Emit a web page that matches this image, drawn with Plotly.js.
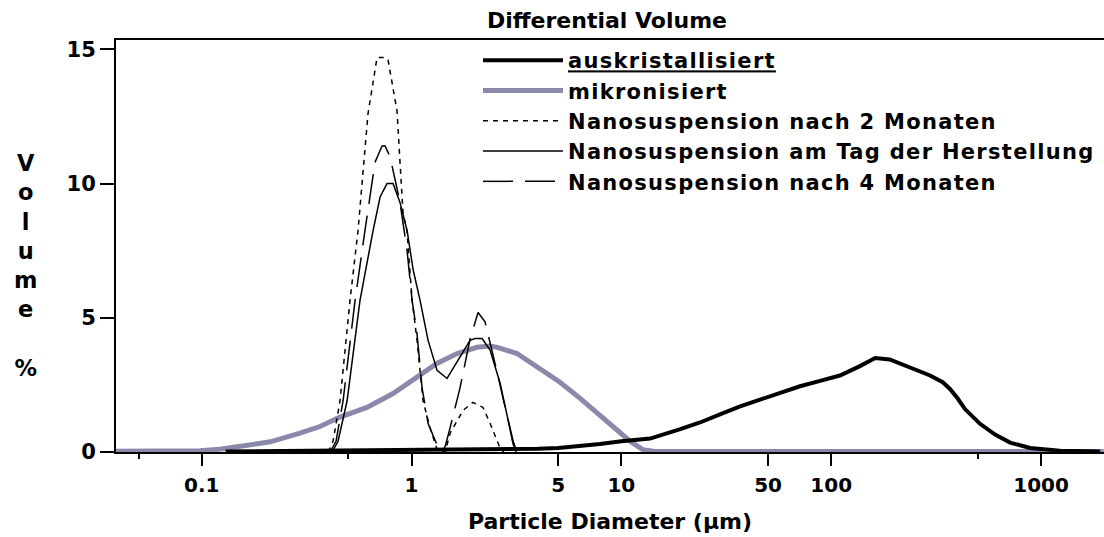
<!DOCTYPE html>
<html>
<head>
<meta charset="utf-8">
<script src="https://cdn.plot.ly/plotly-3.0.1.min.js"></script>
<style>
  html, body { margin: 0; padding: 0; background: #fff; }
  #chart { width: 1104px; height: 537px; }
  .legendtext { letter-spacing: 1.3px; }
</style>
</head>
<body>
<div id="chart"></div>
<script>
// ---- Data ----
const seriesNames = [
  '<u>auskristallisiert</u>',
  'mikronisiert',
  'Nanosuspension nach 2 Monaten',
  'Nanosuspension am Tag der Herstellung',
  'Nanosuspension nach 4 Monaten'
];

// auskristallisiert (thick black)
const ausD = [0.13, 0.2, 0.3, 0.5, 1, 2, 3, 4, 5, 6.4, 7.9, 10, 13.7, 19.1, 23.7, 29.5, 36.8, 45.8, 57, 71, 88.5, 110, 137, 162, 190, 213, 250, 296, 340, 368, 400, 434, 512, 604, 712, 887, 1233, 1910];
const ausV = [0.02, 0.03, 0.04, 0.05, 0.06, 0.08, 0.1, 0.12, 0.15, 0.22, 0.3, 0.4, 0.5, 0.85, 1.1, 1.4, 1.7, 1.95, 2.2, 2.45, 2.65, 2.85, 3.2, 3.5, 3.45, 3.3, 3.05, 2.85, 2.6, 2.35, 2.0, 1.6, 1.05, 0.65, 0.35, 0.15, 0.05, 0.02];

// mikronisiert (thick grey-violet)
const mikD = [0.039, 0.063, 0.098, 0.122, 0.152, 0.17, 0.212, 0.294, 0.366, 0.456, 0.613, 0.816, 1.06, 1.32, 1.65, 2.05, 2.37, 2.56, 3.18, 4.24, 5.1, 6.36, 7.92, 9.34, 11.0, 12.7, 14.5, 20, 100, 1000, 1990];
const mikV = [0.03, 0.03, 0.05, 0.1, 0.2, 0.25, 0.38, 0.7, 0.95, 1.3, 1.66, 2.18, 2.78, 3.3, 3.67, 3.9, 3.95, 3.9, 3.67, 3.04, 2.6, 2.0, 1.35, 0.85, 0.4, 0.08, 0.02, 0.02, 0.02, 0.02, 0.02];

// Nanosuspension nach 2 Monaten (short dashes)
const n2D = [0.400, 0.4225, 0.456, 0.509, 0.556, 0.620, 0.685, 0.748, 0.773, 0.853, 0.881, 0.911, 0.952, 1.006, 1.062, 1.135, 1.225, 1.294, 1.323, 1.35, 1.445, 1.526, 1.76, 1.96, 2.19, 2.37, 2.56, 2.64, 2.75];
const n2V = [0, 0.4, 1.9, 5.65, 8.26, 12.6, 14.7, 14.7, 14.6, 12.7, 10.8, 8.9, 8.2, 5.65, 4.16, 1.9, 0.9, 0.3, 0.1, 0, 0, 0.7, 1.55, 1.85, 1.66, 1.06, 0.43, 0.15, 0];

// Nanosuspension am Tag der Herstellung (solid thin)
const n0D = [0.418, 0.4464, 0.4928, 0.568, 0.656, 0.708, 0.764, 0.816, 0.881, 0.952, 1.017, 1.098, 1.199, 1.323, 1.476, 1.666, 1.90, 2.007, 2.168, 2.367, 2.642, 2.884, 3.047, 3.149];
const n0V = [0, 0.4, 1.9, 5.65, 8.26, 9.5, 10.0, 10.0, 9.3, 8.26, 6.8, 5.65, 4.16, 3.04, 2.74, 3.4, 4.16, 4.23, 4.23, 3.8, 2.56, 1.2, 0.3, 0];

// Nanosuspension nach 4 Monaten (long dashes)
const n4D = [0.409, 0.4366, 0.4716, 0.538, 0.600, 0.670, 0.7235, 0.748, 0.790, 0.834, 0.881, 0.952, 1.006, 1.062, 1.122, 1.199, 1.294, 1.337, 1.40, 1.445, 1.526, 1.703, 1.90, 2.075, 2.24, 2.42, 2.58, 2.73, 2.88, 3.05, 3.18];
const n4V = [0, 0.4, 1.9, 5.65, 8.26, 10.8, 11.4, 11.4, 11.0, 10.1, 9.3, 7.5, 5.65, 4.4, 2.4, 1.06, 0.43, 0.17, 0.05, 0.2, 0.9, 2.4, 4.2, 5.2, 4.85, 3.8, 2.85, 2.0, 1.2, 0.4, 0];

// Axis ticks
const xTickVals = [0.1, 1, 5, 10, 50, 100, 1000];
const xTickText = ['0.1', '1', '5', '10', '50', '100', '1000'];
const xMinorTickVals = [0.05, 0.5, 500];
const yTickVals = [0, 5, 10, 15];
const yTickText = ['0', '5', '10', '15'];

const chartTitle = 'Differential Volume';
const xTitle = 'Particle Diameter (µm)';
const yTitle = 'V<br>o<br>l<br>u<br>m<br>e<br><br>%';

// ---- Styles ----
const FONT = 'DejaVu Sans, Verdana, sans-serif';
const bold = (size) => ({ family: FONT, size: size, color: '#000', weight: 'bold' });

const traces = [
  { x: mikD, y: mikV, name: seriesNames[1], legendrank: 2, mode: 'lines',
    line: { color: '#8b89a9', width: 5 } },
  { x: ausD, y: ausV, name: seriesNames[0], legendrank: 1, mode: 'lines',
    line: { color: '#000000', width: 4 } },
  { x: n2D, y: n2V, name: seriesNames[2], legendrank: 3, mode: 'lines',
    line: { color: '#000000', width: 1.5, dash: '5px,5px' } },
  { x: n0D, y: n0V, name: seriesNames[3], legendrank: 4, mode: 'lines',
    line: { color: '#000000', width: 1.5 } },
  { x: n4D, y: n4V, name: seriesNames[4], legendrank: 5, mode: 'lines',
    line: { color: '#000000', width: 1.5, dash: '30px,12px' } }
];

const layout = {
  width: 1104, height: 537,
  margin: { l: 116, r: 0, t: 40, b: 85, pad: 0 },
  paper_bgcolor: '#ffffff', plot_bgcolor: '#ffffff',
  showlegend: true,
  title: { text: chartTitle, font: bold(22), xref: 'container', x: 607 / 1104, xanchor: 'center',
           yref: 'container', y: 1 - 20 / 537, yanchor: 'middle' },
  xaxis: {
    type: 'log', range: [-1.4085, 3.30],
    showgrid: false, zeroline: false,
    showline: true, linecolor: '#000', linewidth: 2, mirror: true,
    ticks: 'outside', ticklen: 12, tickwidth: 2, tickcolor: '#000',
    tickmode: 'array', tickvals: xTickVals, ticktext: xTickText,
    tickfont: bold(20), ticklabelstandoff: 2,
    minor: { tickmode: 'array', tickvals: xMinorTickVals, ticks: 'outside', ticklen: 5, tickwidth: 2, tickcolor: '#000', showgrid: false },
    title: { text: xTitle, font: bold(22), standoff: 18 }
  },
  yaxis: {
    range: [0, 15.35],
    showgrid: false, zeroline: false,
    showline: true, linecolor: '#000', linewidth: 2,
    ticks: 'outside', ticklen: 14, tickwidth: 2, tickcolor: '#000',
    tickmode: 'array', tickvals: yTickVals, ticktext: yTickText,
    tickfont: bold(21)
  },
  legend: {
    x: (478 - 116) / 988, xanchor: 'left',
    y: 1.0, yanchor: 'top',
    bgcolor: 'rgba(0,0,0,0)', borderwidth: 0,
    font: bold(21), itemwidth: 80, tracegroupgap: 0
  },
  annotations: [
    { text: yTitle, xref: 'paper', yref: 'paper', x: (25 - 116) / 988, y: (452 - 265) / 412,
      xanchor: 'center', yanchor: 'middle', showarrow: false, align: 'center', font: bold(22.5) }
  ]
};

Plotly.newPlot('chart', traces, layout, { staticPlot: true, displayModeBar: false });
</script>
</body>
</html>
